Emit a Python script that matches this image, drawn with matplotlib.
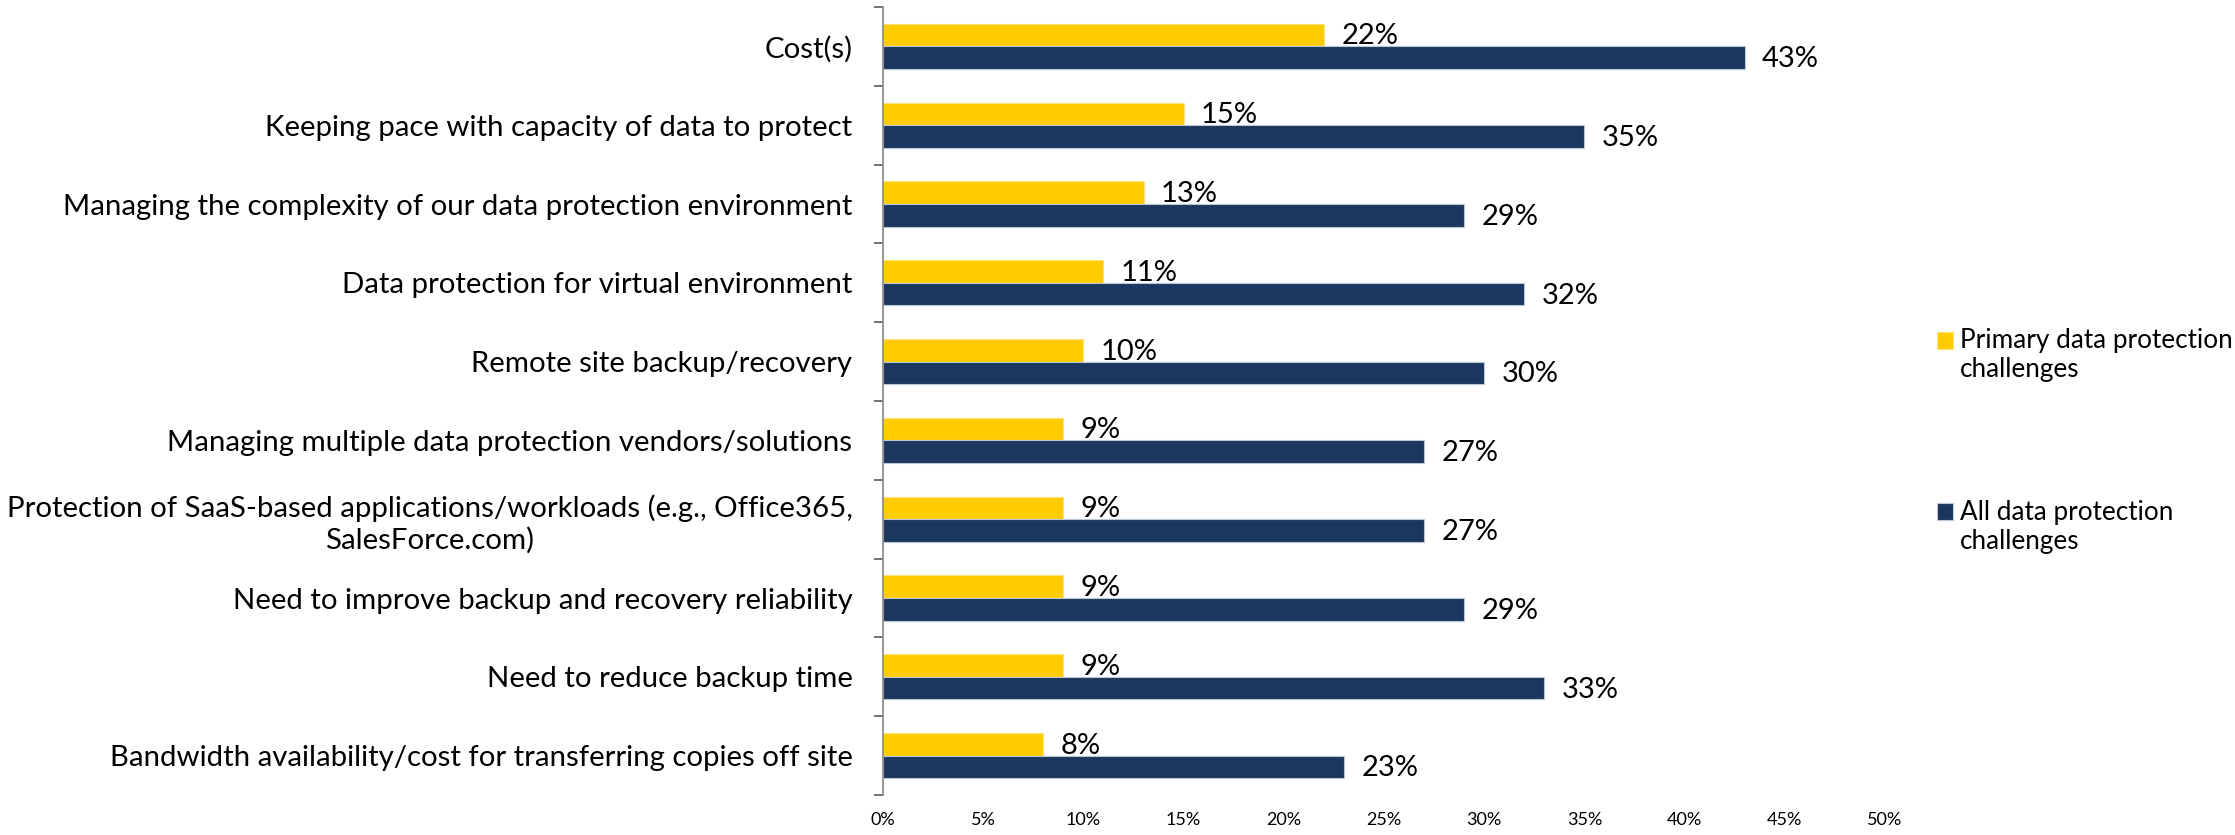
import matplotlib
matplotlib.use("Agg")
import matplotlib.pyplot as plt
from matplotlib.patches import Rectangle
from matplotlib.container import BarContainer
from matplotlib.legend_handler import HandlerPatch, update_from_first_child
import numpy as np

plt.rcParams['font.family'] = ['Lato', 'DejaVu Sans']

# challenges, top to bottom
categories = [
    "Cost(s)",
    "Keeping pace with capacity of data to protect",
    "Managing the complexity of our data protection environment",
    "Data protection for virtual environment",
    "Remote site backup/recovery",
    "Managing multiple data protection vendors/solutions",
    "Protection of SaaS-based applications/workloads (e.g., Office365,\nSalesForce.com)",
    "Need to improve backup and recovery reliability",
    "Need to reduce backup time",
    "Bandwidth availability/cost for transferring copies off site",
]
primary = [22, 15, 13, 11, 10, 9, 9, 9, 9, 8]
all_challenges = [43, 35, 29, 32, 30, 27, 27, 29, 33, 23]
series_names = ["Primary data protection\nchallenges", "All data protection\nchallenges"]
xticks = [0, 5, 10, 15, 20, 25, 30, 35, 40, 45, 50]

yellow = '#FFCC00'
navy = '#1B375F'
leg_fs = 18.8


def first_line_patch(legend, orig_handle, xdescent, ydescent, width, height, fontsize):
    # put the colour square next to the first line of a two-line label
    return Rectangle((-xdescent, -ydescent + 0.6 * fontsize), width, height)


fig = plt.figure(figsize=(22.35, 8.35), dpi=100)
ax = fig.add_axes([0.3951, 0.0479, 0.8434 - 0.3951, 0.9916 - 0.0479])

y = np.arange(len(categories))
h = 0.287
b1 = ax.barh(y - h / 2, primary, height=h, color=yellow, edgecolor='#ffe27a', linewidth=0.8,
             label=series_names[0])
b2 = ax.barh(y + h / 2, all_challenges, height=h, color=navy, edgecolor='#b9c6d8', linewidth=0.8,
             label=series_names[1])

for bars, vals in ((b1, primary), (b2, all_challenges)):
    for rect, v in zip(bars, vals):
        ax.annotate(f"{v}%", (rect.get_width(), rect.get_y() + rect.get_height() / 2),
                    xytext=(12.5, -1), textcoords='offset points',
                    ha='left', va='center', fontsize=21, color='black')

ax.set_xlim(0, 50)
ax.set_ylim(len(categories) - 0.5, -0.5)
ax.set_xticks(xticks)
ax.set_xticklabels([f"{t}%" for t in xticks], fontsize=13)
ax.tick_params(axis='x', length=0, pad=12)

# category ticks sit on the band boundaries, labels in the middle
ax.set_yticks(np.arange(len(categories) + 1) - 0.5)
ax.set_yticklabels([])
ax.set_yticks(y, minor=True)
ax.set_yticklabels(categories, minor=True, fontsize=21.2, multialignment='center')
ax.tick_params(axis='y', which='major', length=6.5, width=1.2, color='#595959')
ax.tick_params(axis='y', which='minor', length=0, pad=22)

for s in ('top', 'right', 'bottom'):
    ax.spines[s].set_visible(False)
ax.spines['left'].set_color('#868686')
ax.spines['left'].set_linewidth(1.2)

fig.legend(handles=[b1, b2], loc='upper left', bbox_to_anchor=(0.8667, 0.607),
           frameon=False, fontsize=leg_fs, borderpad=0, borderaxespad=0,
           handlelength=0.61, handleheight=0.61, handletextpad=0.27,
           labelspacing=4.5,
           handler_map={BarContainer: HandlerPatch(patch_func=first_line_patch,
                                                   update_func=update_from_first_child)})

fig.savefig("out.png", dpi=100)
